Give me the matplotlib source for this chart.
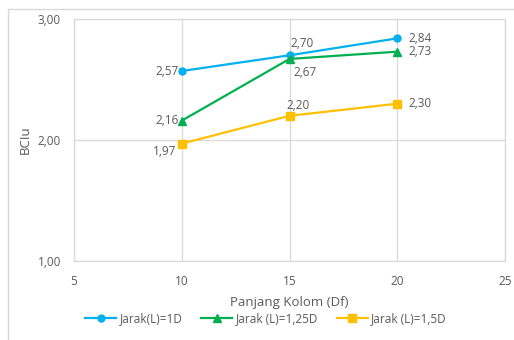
import matplotlib
matplotlib.use("Agg")
import matplotlib.pyplot as plt
from matplotlib.patches import Rectangle

plt.rcParams['font.family'] = ['Open Sans', 'DejaVu Sans']

df = [10, 15, 20]
bciu_1d = [2.57, 2.70, 2.84]
bciu_125d = [2.16, 2.67, 2.73]
bciu_15d = [1.97, 2.20, 2.30]
names = ['Jarak(L)=1D', 'Jarak (L)=1,25D', 'Jarak (L)=1,5D']

blue = '#00B0F0'
green = '#00B050'
yellow = '#FFC000'
txt = '#595959'
grid = '#D9D9D9'

fig = plt.figure(figsize=(5.14, 3.40), dpi=100)
# outer chart frame
fig.patches.append(Rectangle((8/514, -0.1), 1.2, 1 - 9/340 + 0.1, transform=fig.transFigure,
                             fill=False, edgecolor=grid, linewidth=1.0))
ax = fig.add_axes([74/514, 1 - 261/340, (505 - 74)/514, (261 - 19)/340])

ax.plot(df, bciu_1d, color=blue, marker='o', markersize=5, linewidth=1.6, label=names[0])
ax.plot(df, bciu_125d, color=green, marker='^', markersize=5.5, linewidth=1.6, label=names[1])
ax.plot(df, bciu_15d, color=yellow, marker='s', markersize=5.5, linewidth=1.6, label=names[2])

ax.set_xlim(5, 25)
ax.set_ylim(1, 3)
ax.set_xticks([5, 10, 15, 20, 25])
ax.set_yticks([1, 2, 3])
ax.set_yticklabels(['1,00', '2,00', '3,00'])
ax.grid(True, color=grid, linewidth=0.9)
ax.set_axisbelow(True)
for s in ax.spines.values():
    s.set_color(grid)
    s.set_linewidth(0.9)
ax.tick_params(length=0, colors=txt, labelsize=8.5)
ax.tick_params(axis='x', pad=10)
ax.tick_params(axis='y', pad=9.5)
ax.set_xlabel('Panjang Kolom (Df)', color=txt, fontsize=9.5, labelpad=6)
ax.set_ylabel('BCIu', color=txt, fontsize=9.5, labelpad=0)
ax.yaxis.set_label_coords(-0.098, 0.5)

def fmt(v):
    return f'{v:.2f}'.replace('.', ',')

# data labels: (dx, dy) in points, alignment
offs_1d = [(-2, 0, 'right', 'center'), (1, 4, 'left', 'bottom'), (8, 0, 'left', 'center')]
offs_125d = [(3, -5, 'left', 'top'), (3, -5, 'left', 'top'), (8, 0, 'left', 'center')]
offs_125d[0] = (-2, 0, 'right', 'center')
offs_15d = [(-4, -6, 'right', 'center'), (-2, 3, 'left', 'bottom'), (8, 0, 'left', 'center')]
for ys, offs in [(bciu_1d, offs_1d), (bciu_125d, offs_125d), (bciu_15d, offs_15d)]:
    for x, y, (dx, dy, ha, va) in zip(df, ys, offs):
        ax.annotate(fmt(y), (x, y), xytext=(dx, dy), textcoords='offset points',
                    ha=ha, va=va, color=txt, fontsize=8.5)

fig.legend(loc='center', bbox_to_anchor=(266/514, 1 - 319/340), ncol=3, frameon=False,
           fontsize=8.5, handlelength=2.6, columnspacing=1.6, handletextpad=0.3,
           labelcolor=txt)

fig.savefig('out.png', dpi=100)
